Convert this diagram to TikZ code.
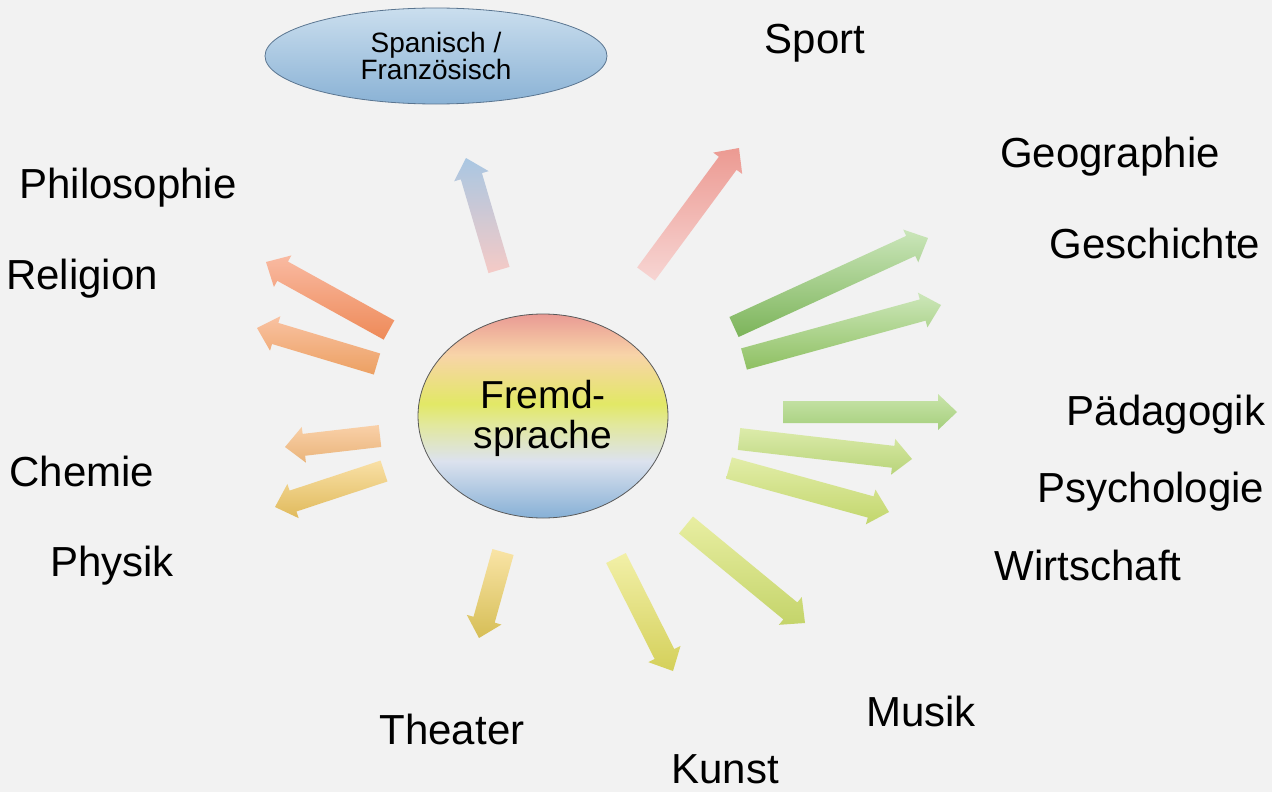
\documentclass[tikz,border=0pt]{standalone}
\usepackage{fontspec}
\setmainfont{Liberation Sans}
\usetikzlibrary{calc,shapes.geometric}
\definecolor{bg}{HTML}{F2F2F2}
\definecolor{c1}{HTML}{E99A94}
\definecolor{c2}{HTML}{F8D4A8}
\definecolor{c3}{HTML}{E2E866}
\definecolor{c4}{HTML}{E2E89C}
\definecolor{c5}{HTML}{DCE2EE}
\definecolor{c6}{HTML}{86B0D6}
\definecolor{spanline}{HTML}{5A7590}
\definecolor{spantop}{HTML}{CADEEE}
\definecolor{spanbot}{HTML}{8AB2D5}
\pgfdeclareverticalshading{fremdshade}{100bp}{%
  color(0bp)=(c6);color(25bp)=(c6);color(39bp)=(c5);color(48bp)=(c4);
  color(53bp)=(c3);color(65bp)=(c2);color(75bp)=(c1);color(100bp)=(c1)}
\tikzset{
  lab/.style={anchor=base, font=\fontsize{42}{46}\selectfont, inner sep=0pt},
}
\newcommand\blockarrow[4]{%
  \definecolor{arrtop}{HTML}{#3}%
  \definecolor{arrbot}{HTML}{#4}%
  \coordinate (#1-n) at ($(#2)!19pt!(#1)$);
  \path[top color=arrtop, bottom color=arrbot]
    ($(#1)!11pt!90:(#2)$) -- ($(#1-n)!11pt!90:(#2)$) -- ($(#1-n)!18pt!90:(#2)$) -- (#2)
    -- ($(#1-n)!18pt!-90:(#2)$) -- ($(#1-n)!11pt!-90:(#2)$) -- ($(#1)!11pt!-90:(#2)$) -- cycle;
}
\begin{document}
\begin{tikzpicture}[x=1pt,y=-1pt]
\fill[bg] (0,0) rectangle (1272,792);
\useasboundingbox (0,0) rectangle (1272,792);

% arrows: tail and tip coordinates
\coordinate (a1t) at (499,270); \coordinate (a1h) at (466,158);
\coordinate (a2t) at (646,274); \coordinate (a2h) at (739,148);
\coordinate (a3t) at (734,327); \coordinate (a3h) at (928,238);
\coordinate (a4t) at (744,359); \coordinate (a4h) at (941,305);
\coordinate (a5t) at (783,412); \coordinate (a5h) at (957,412);
\coordinate (a6t) at (739,439); \coordinate (a6h) at (912,459);
\coordinate (a7t) at (729,468); \coordinate (a7h) at (889,512);
\coordinate (a8t) at (686,525); \coordinate (a8h) at (805,623);
\coordinate (a9t) at (616,558); \coordinate (a9h) at (673,671);
\coordinate (a10t) at (503,552); \coordinate (a10h) at (479,638);
\coordinate (a11t) at (389,330); \coordinate (a11h) at (266,262);
\coordinate (a12t) at (377,364); \coordinate (a12h) at (257,328);
\coordinate (a13t) at (380,436); \coordinate (a13h) at (285,447);
\coordinate (a14t) at (384,471); \coordinate (a14h) at (275,507);

\blockarrow{a1t}{a1h}{A9C7E2}{F5CAC6}
\blockarrow{a2t}{a2h}{EC9A92}{F7D5D3}
\blockarrow{a3t}{a3h}{CBE6BA}{7CB45A}
\blockarrow{a4t}{a4h}{CDE7BA}{8EC062}
\blockarrow{a5t}{a5h}{C9E4AA}{A5CF7C}
\blockarrow{a6t}{a6h}{DCEBAA}{B8D47A}
\blockarrow{a7t}{a7h}{E2EDA8}{C2D66C}
\blockarrow{a8t}{a8h}{E8EEA2}{C4D46A}
\blockarrow{a9t}{a9h}{F2F0A8}{D4D05A}
\blockarrow{a10t}{a10h}{F9E4A6}{D6BE56}
\blockarrow{a11t}{a11h}{F9BAA2}{EE8A58}
\blockarrow{a12t}{a12h}{F9C2A2}{ECA062}
\blockarrow{a13t}{a13h}{F9D0A8}{EAB47A}
\blockarrow{a14t}{a14h}{F9E0A6}{E0BA5C}

% center ellipse
\node[ellipse, draw=black!65, line width=0.8pt, minimum width=250pt, minimum height=204pt,
      shading=fremdshade, inner sep=0pt] (fremd) at (543,416) {};
\node[align=center, font=\fontsize{39}{40}\selectfont, anchor=base] (fremdtxt) at (543,448) {Fremd-\\sprache};

% top ellipse
\node[ellipse, draw=spanline, line width=0.8pt, minimum width=342pt, minimum height=96pt,
      top color=spantop, bottom color=spanbot, inner sep=0pt] (span) at (436,56) {};
\node[align=center, font=\fontsize{28}{26}\selectfont, anchor=base] (spantxt) at (436,80) {Spanisch /\\Französisch};

% labels
\node[lab] (sport) at (815,54) {Sport};
\node[lab] (geo) at (1110,167) {Geographie};
\node[lab] (gesch) at (1155,258) {Geschichte};
\node[lab] (phil) at (128,198) {Philosophie};
\node[lab] (rel) at (82,289) {Religion};
\node[lab] (paed) at (1166,425) {Pädagogik};
\node[lab] (psy) at (1151,502) {Psychologie};
\node[lab] (wirt) at (1088,580) {Wirtschaft};
\node[lab] (chem) at (82,486) {Chemie};
\node[lab] (phys) at (112,576) {Physik};
\node[lab] (theat) at (452,744) {Theater};
\node[lab] (musik) at (921,726) {Musik};
\node[lab] (kunst) at (725,783) {Kunst};
\end{tikzpicture}
\end{document}
